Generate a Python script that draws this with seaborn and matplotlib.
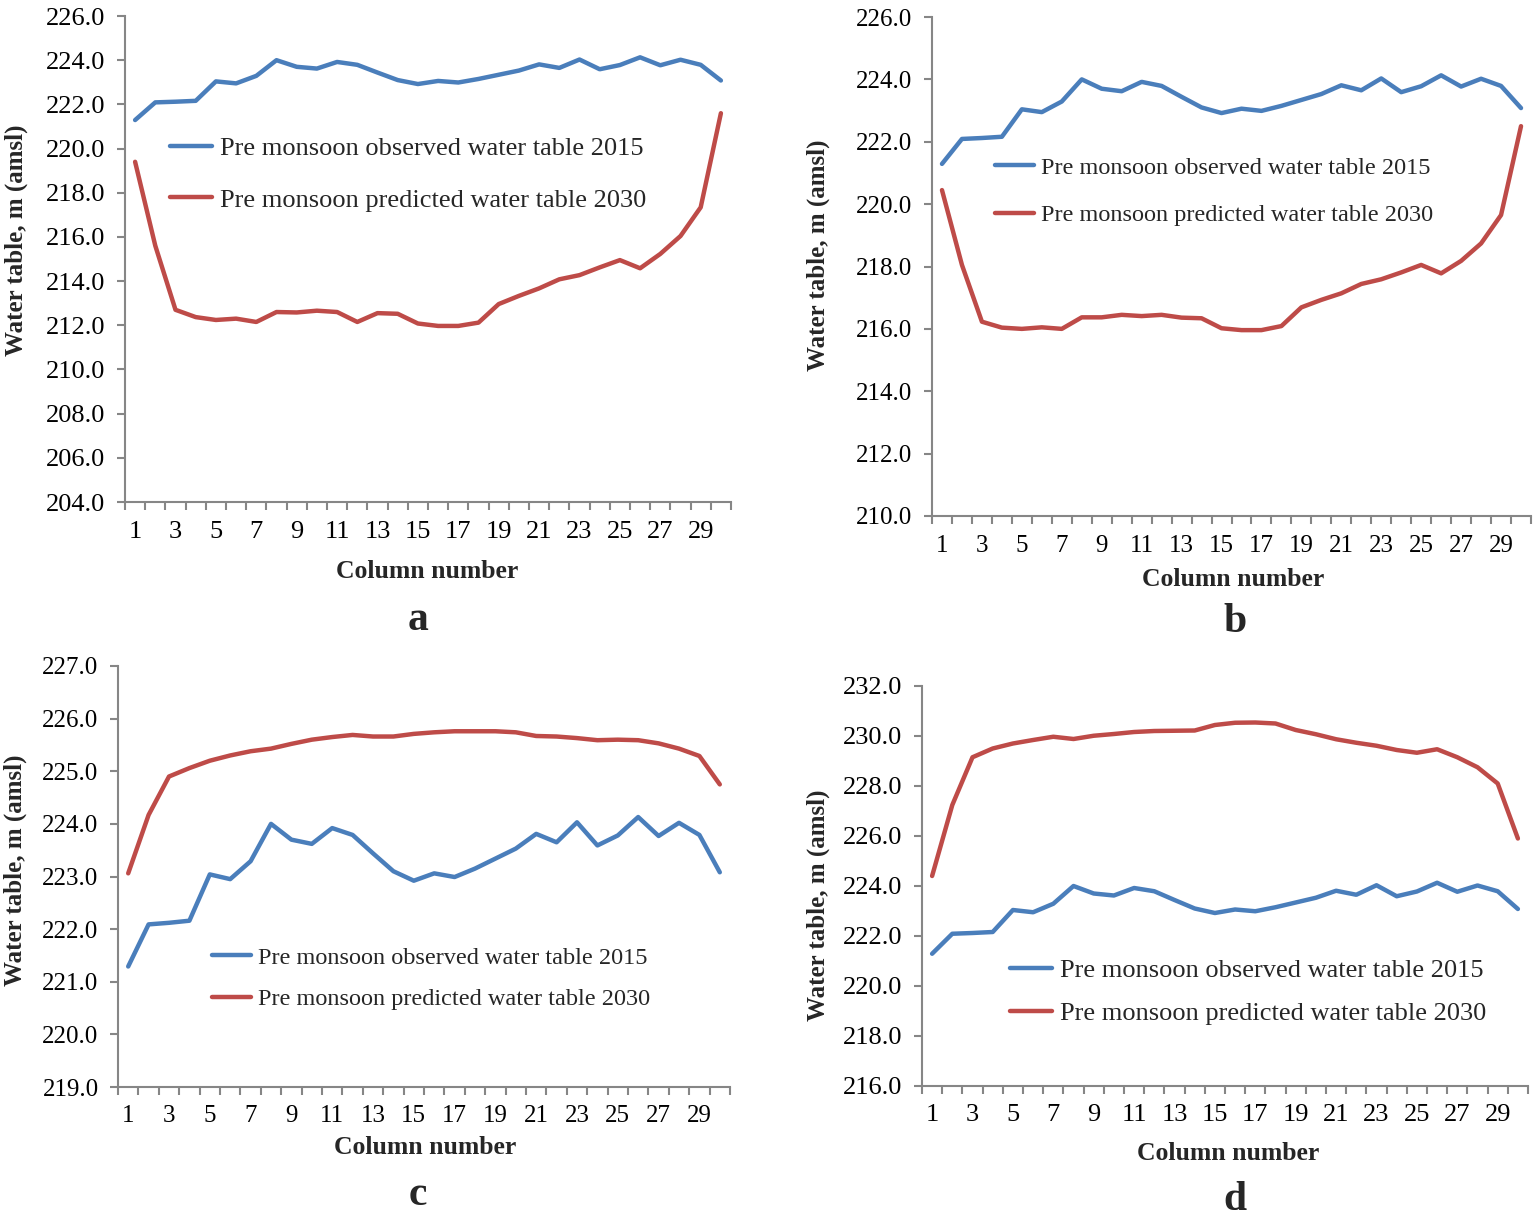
import numpy as np
import pandas as pd
import matplotlib
matplotlib.use("Agg")
import matplotlib.pyplot as plt
from matplotlib.ticker import FormatStrFormatter, MultipleLocator
import seaborn as sns

# ---------------- data ----------------
columns = list(range(1, 31))

observed_2015 = [221.29, 222.09, 222.12, 222.16, 223.04, 222.95, 223.29, 224.00, 223.70, 223.62,
                 223.92, 223.79, 223.44, 223.10, 222.92, 223.06, 222.99, 223.15, 223.34, 223.53,
                 223.81, 223.65, 224.03, 223.59, 223.78, 224.13, 223.77, 224.02, 223.79, 223.08]

predicted_a = [219.40, 215.60, 212.70, 212.37, 212.24, 212.30, 212.15, 212.60, 212.58, 212.66,
               212.60, 212.15, 212.55, 212.52, 212.08, 211.97, 211.97, 212.12, 212.96, 213.33,
               213.67, 214.08, 214.27, 214.62, 214.95, 214.58, 215.23, 216.04, 217.34, 221.60]

predicted_b = [220.45, 218.05, 216.23, 216.04, 216.00, 216.05, 216.00, 216.37, 216.37, 216.45,
               216.41, 216.45, 216.36, 216.34, 216.02, 215.96, 215.96, 216.09, 216.69, 216.93,
               217.14, 217.44, 217.59, 217.81, 218.05, 217.78, 218.18, 218.74, 219.65, 222.50]

predicted_c = [223.06, 224.17, 224.90, 225.06, 225.20, 225.30, 225.38, 225.43, 225.52, 225.60,
               225.65, 225.69, 225.66, 225.66, 225.71, 225.74, 225.76, 225.76, 225.76, 225.74,
               225.67, 225.66, 225.63, 225.59, 225.60, 225.59, 225.53, 225.43, 225.29, 224.75]

predicted_d = [224.40, 227.24, 229.15, 229.50, 229.70, 229.84, 229.97, 229.88, 230.01, 230.08,
               230.16, 230.20, 230.21, 230.22, 230.44, 230.53, 230.54, 230.50, 230.24, 230.07,
               229.87, 229.73, 229.61, 229.44, 229.33, 229.47, 229.15, 228.75, 228.10, 225.90]

series_labels = ["Pre monsoon observed water table 2015",
                 "Pre monsoon predicted water table 2030"]
panel_letters = ["a", "b", "c", "d"]
x_tick_labels = [str(v) for v in range(1, 30, 2)]
y_label = "Water table, m (amsl)"
x_label = "Column number"

# ---------------- style ----------------
sns.set_theme(style="white")
plt.rcParams["font.family"] = ["Liberation Serif", "DejaVu Serif"]

W, H = 1535, 1227
fig = plt.figure(figsize=(W / 100, H / 100), dpi=100)
fig.patch.set_facecolor("white")

BLUE = "#4A7EBB"
RED = "#BE4B48"
AXC = "#868686"

panels = [
    dict(box=(125, 16, 731, 502), ylim=(204, 226), step=2, pred=predicted_a, tfs=19, xpad=14,
         leg=(170, 148, 200, 19, 1.08), ylab=(16, 240), xlab=(427, 571), letter=(418, 620)),
    dict(box=(932, 17, 1531, 516), ylim=(210, 226), step=2, pred=predicted_b, tfs=18, xpad=14,
         leg=(995, 168, 215, 17.5, 1.05), ylab=(818, 255), xlab=(1233, 580), letter=(1235, 622)),
    dict(box=(118, 666, 730, 1087), ylim=(219, 227), step=1, pred=predicted_c, tfs=18, xpad=13,
         leg=(212, 958, 999, 17.5, 0.8), ylab=(15, 870), xlab=(425, 1148), letter=(418, 1195)),
    dict(box=(922, 686, 1528, 1086), ylim=(216, 232), step=2, pred=predicted_d, tfs=19, xpad=13,
         leg=(1010, 970, 1013, 19, 0.74), ylab=(818, 905), xlab=(1228, 1153), letter=(1235, 1200)),
]

for i, p in enumerate(panels):
    l, t, r, b = p["box"]
    ax = fig.add_axes([l / W, 1 - b / H, (r - l) / W, (b - t) / H])
    df = pd.DataFrame({
        "col": columns * 2,
        "val": observed_2015 + p["pred"],
        "series": [series_labels[0]] * 30 + [series_labels[1]] * 30,
    })
    sns.lineplot(data=df, x="col", y="val", hue="series", palette=[BLUE, RED],
                 linewidth=3.2, ax=ax, legend=True)

    ax.set_xlim(0.5, 30.5)
    ax.set_ylim(*p["ylim"])
    ax.yaxis.set_major_locator(MultipleLocator(p["step"]))
    ax.yaxis.set_major_formatter(FormatStrFormatter("%.1f"))
    ax.set_xticks(np.arange(0.5, 30.6, 1.0))
    ax.set_xticklabels([])
    ax.set_xticks(np.arange(1, 30, 2), minor=True)
    ax.set_xticklabels(x_tick_labels, minor=True)
    ax.tick_params(axis="x", which="major", direction="out", length=6, width=1.5, color=AXC, bottom=True)
    ax.tick_params(axis="x", which="minor", length=0, pad=p["xpad"], labelsize=p["tfs"],
                   labelcolor="black", bottom=True)
    ax.tick_params(axis="y", which="major", direction="out", length=6, width=1.5, color=AXC, left=True,
                   pad=8, labelsize=p["tfs"], labelcolor="black")

    for s in ["top", "right"]:
        ax.spines[s].set_visible(False)
    for s in ["left", "bottom"]:
        ax.spines[s].set_color(AXC)
        ax.spines[s].set_linewidth(1.5)
    ax.grid(False)
    ax.set_facecolor("white")

    ax.set_ylabel(y_label, fontsize=18, fontweight="bold", va="center")
    ax.set_xlabel(x_label, fontsize=18.5, fontweight="bold", va="center")
    yx, yy = p["ylab"]
    ax.yaxis.set_label_coords((yx - l) / (r - l), (b - yy) / (b - t))
    xx, xy = p["xlab"]
    ax.xaxis.set_label_coords((xx - l) / (r - l), (b - xy) / (b - t))

    handles, labels = ax.get_legend_handles_labels()
    lx, ly1, ly2, lfs, lsp = p["leg"]
    ymid = (ly1 + ly2) / 2
    leg = ax.legend(handles, labels, loc="center left",
                    bbox_to_anchor=((lx - l) / (r - l), (b - ymid) / (b - t)),
                    frameon=False, fontsize=lfs, handlelength=1.6, handletextpad=0.3,
                    borderpad=0, borderaxespad=0, labelspacing=lsp)
    for lh in leg.get_lines():
        lh.set_linewidth(3.2)

    lx_, ly_ = p["letter"]
    fig.text(lx_ / W, 1 - ly_ / H, panel_letters[i], fontsize=30, fontweight="bold",
             ha="center", va="center")

fig.savefig("out.png", dpi=100, facecolor="white")
